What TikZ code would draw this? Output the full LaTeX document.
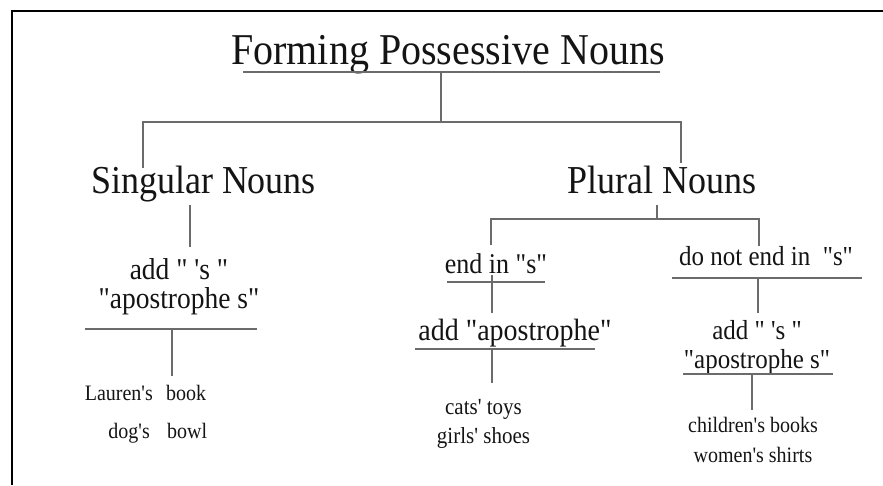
\documentclass[tikz,border=0pt]{standalone}
\usepackage{fontspec}
\newfontfamily\ser{Liberation Serif}
\newcommand\fsz[2]{\fontsize{#1}{#2}\selectfont}
\tikzset{
  lbl/.style={inner sep=0pt, anchor=base, text=black!92, yscale=1.1},
  ln/.style={draw=black!58, line width=1.4pt},
  frameline/.style={draw=black, line width=2.6pt},
}
\begin{document}
\begin{tikzpicture}[x=1pt, y=-1pt]
\useasboundingbox (0,0) rectangle (883,485);
% frame (left and top only)
\coordinate (fA) at (12,485);
\coordinate (fB) at (12,11);
\coordinate (fC) at (883,11);
\draw[frameline] (fA) -- (fB) -- (fC);

% ---- labels (multi-line nodes are placed at the baseline of their last line) ----
\node[lbl, font=\ser\fsz{40}{40}] (title) at (448,64) {Forming Possessive Nouns};
\node[lbl, font=\ser\fsz{36}{36}] (sing) at (203.5,193) {Singular Nouns};
\node[lbl, font=\ser\fsz{36}{36}] (plur) at (661.5,193) {Plural Nouns};

\node[lbl, font=\ser\fsz{27.5}{25.5}, align=center] (sadd) at (179,308) {add " 's "\\"apostrophe s"};
\node[lbl, font=\ser\fsz{20}{20}, anchor=base east] (ex1a) at (153,400) {Lauren's};
\node[lbl, font=\ser\fsz{20}{20}, anchor=base west] (ex1b) at (166,400) {book};
\node[lbl, font=\ser\fsz{20}{20}, anchor=base east] (ex2a) at (150,438) {dog's};
\node[lbl, font=\ser\fsz{20}{20}, anchor=base west] (ex2b) at (167,438) {bowl};

\node[lbl, font=\ser\fsz{26}{26}] (endS) at (496,273) {end in "s"};
\node[lbl, font=\ser\fsz{28}{28}] (addAp) at (515,340) {add "apostrophe"};
\node[lbl, font=\ser\fsz{21}{25.5}, align=center] (ex3) at (483.5,443) {cats' toys\\girls' shoes};

\node[lbl, font=\ser\fsz{25}{25}] (notS) at (766,265) {do not end in\ \ "s"};
\node[lbl, font=\ser\fsz{25}{25.5}, align=center] (radd) at (757,368) {add " 's "\\"apostrophe s"};
\node[lbl, font=\ser\fsz{20}{26.5}, align=center] (ex5) at (753,462) {children's books\\women's shirts};

% ---- junction coordinates ----
\coordinate (tUL) at (243,72);  \coordinate (tUR) at (660,72);
\coordinate (tD)  at (441,72);  \coordinate (tJ)  at (441,122);
\coordinate (jL)  at (143,122); \coordinate (jR)  at (681,122);
\coordinate (sTop) at (143,168); \coordinate (pTop) at (681,163);

\coordinate (sB) at (190,205);  \coordinate (sC) at (190,247);
\coordinate (hL) at (85,329);   \coordinate (hR) at (257,329);
\coordinate (hD) at (172,329);  \coordinate (hE) at (172,376);

\coordinate (pB) at (657,205);  \coordinate (pJ) at (657,219);
\coordinate (pL) at (491,219);  \coordinate (pR) at (759,219);
\coordinate (pLd) at (491,245); \coordinate (pRd) at (759,246);

\coordinate (eUL) at (447,282); \coordinate (eUR) at (545,282);
\coordinate (eV1) at (492,275); \coordinate (eV2) at (492,313);
\coordinate (aUL) at (415,349); \coordinate (aUR) at (595,349);
\coordinate (aV1) at (492,349); \coordinate (aV2) at (492,383);

\coordinate (nUL) at (672,278); \coordinate (nUR) at (862,278);
\coordinate (nV1) at (758,278); \coordinate (nV2) at (758,313);
\coordinate (rUL) at (683,374); \coordinate (rUR) at (833,374);
\coordinate (rV1) at (752,374); \coordinate (rV2) at (752,410);

% ---- lines ----
\draw[ln] (tUL) -- (tUR);
\draw[ln] (tD) -- (tJ);
\draw[ln] (sTop) -- (jL) -- (jR) -- (pTop);

\draw[ln] (sB) -- (sC);
\draw[ln] (hL) -- (hR);
\draw[ln] (hD) -- (hE);

\draw[ln] (pB) -- (pJ);
\draw[ln] (pLd) -- (pL) -- (pR) -- (pRd);

\draw[ln] (eUL) -- (eUR);
\draw[ln] (eV1) -- (eV2);
\draw[ln] (aUL) -- (aUR);
\draw[ln] (aV1) -- (aV2);

\draw[ln] (nUL) -- (nUR);
\draw[ln] (nV1) -- (nV2);
\draw[ln] (rUL) -- (rUR);
\draw[ln] (rV1) -- (rV2);
\end{tikzpicture}
\end{document}
